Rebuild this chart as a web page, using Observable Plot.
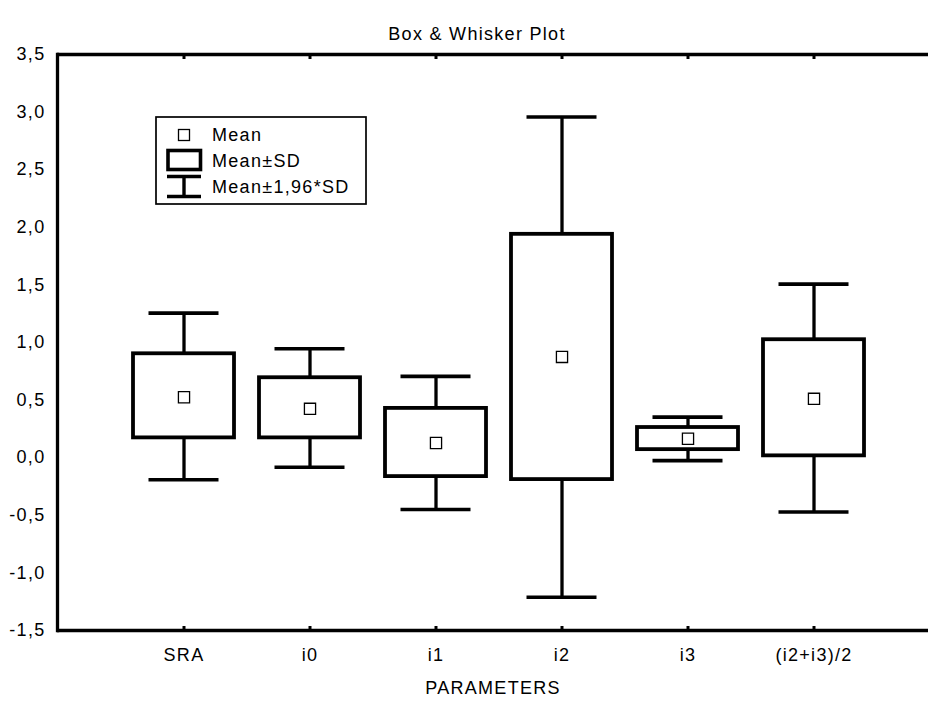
<!DOCTYPE html>
<html><head><meta charset="utf-8">
<script src="https://cdn.jsdelivr.net/npm/d3@7"></script>
<script src="https://cdn.jsdelivr.net/npm/@observablehq/plot@0.6"></script>
<style>body{margin:0;background:#fff}</style>
</head><body><div id="chart"></div>
<script>
const categories = ["SRA", "i0", "i1", "i2", "i3", "(i2+i3)/2"];
const means  = [0.525, 0.424, 0.128, 0.875, 0.164, 0.511];
const sdLow  = [0.172, 0.172, -0.164, -0.190, 0.070, 0.016];
const sdHigh = [0.902, 0.694, 0.428, 1.939, 0.262, 1.024];
const ciLow  = [-0.192, -0.083, -0.450, -1.212, -0.025, -0.472];
const ciHigh = [1.255, 0.946, 0.706, 2.958, 0.352, 1.507];
const yTicks = [-1.5, -1, -0.5, 0, 0.5, 1, 1.5, 2, 2.5, 3, 3.5];
const title = "Box & Whisker Plot";
const xLabel = "PARAMETERS";
const legendLabels = ["Mean", "Mean±SD", "Mean±1,96*SD"];

const data = categories.map((name, i) => ({
  name, mean: means[i], sdLow: sdLow[i], sdHigh: sdHigh[i], ciLow: ciLow[i], ciHigh: ciHigh[i]
}));

const plot = Plot.plot({
  width: 928, height: 702,
  marginLeft: 57, marginRight: 0, marginTop: 54, marginBottom: 72,
  style: {fontFamily: "'Liberation Sans', Arial, sans-serif", fontSize: "18px", letterSpacing: "1.3px", background: "white", color: "black"},
  x: {type: "band", domain: categories, paddingInner: 0.2, paddingOuter: 0.548, align: 0.545, label: null},
  y: {domain: [-1.5, 3.5], label: null},
  marks: [
    Plot.ruleX(data, {x: "name", y1: "ciLow", y2: "ciHigh", strokeWidth: 3.3}),
    Plot.tickY(data, {x: "name", y: "ciLow", strokeWidth: 3.6, inset: 15.5}),
    Plot.tickY(data, {x: "name", y: "ciHigh", strokeWidth: 3.6, inset: 15.5}),
    Plot.barY(data, {x: "name", y1: "sdLow", y2: "sdHigh", fill: "white", stroke: "black", strokeWidth: 3.8}),
    Plot.dot(data, {x: "name", y: "mean", symbol: "square", r: 6.3, fill: "white", stroke: "black", strokeWidth: 1.3}),
    Plot.ruleY([-1.5, 3.5], {strokeWidth: 3.3}),
    Plot.frame({anchor: "left", strokeWidth: 3.3}),
    Plot.axisX({anchor: "bottom", tickSize: 0, tickPadding: 18, label: null}),
    Plot.axisX({anchor: "bottom", tickSize: -4, tickFormat: () => "", strokeWidth: 3, label: null}),
    Plot.axisX({anchor: "top", tickSize: -4, tickFormat: () => "", strokeWidth: 3, label: null}),
    Plot.axisY({ticks: yTicks, tickFormat: d => d.toFixed(1).replace(".", ","), tickSize: 0, tickPadding: 12, label: null}),
    Plot.text([title], {frameAnchor: "top", dy: -27, dx: -16}),
    Plot.text([xLabel], {frameAnchor: "bottom", dy: 63})
  ]
});
document.getElementById("chart").append(plot);

// Legend
const svg = d3.select(plot);
const lg = svg.append("g").attr("class", "legend").attr("text-anchor", "start");
lg.append("rect").attr("x", 156).attr("y", 117).attr("width", 210).attr("height", 87)
  .attr("fill", "white").attr("stroke", "black").attr("stroke-width", 1.7);
lg.append("rect").attr("x", 178.5).attr("y", 129.5).attr("width", 11).attr("height", 11)
  .attr("fill", "white").attr("stroke", "black").attr("stroke-width", 1.3);
lg.append("rect").attr("x", 168).attr("y", 150.5).attr("width", 32.5).attr("height", 19)
  .attr("fill", "white").attr("stroke", "black").attr("stroke-width", 3.6);
[[167, 176.5, 201, 176.5], [167, 196.5, 201, 196.5], [184, 176.5, 184, 196.5]].forEach(([x1, y1, x2, y2]) =>
  lg.append("line").attr("x1", x1).attr("y1", y1).attr("x2", x2).attr("y2", y2)
    .attr("stroke", "black").attr("stroke-width", 3.4));
[135, 160.5, 186.5].forEach((y, i) =>
  lg.append("text").attr("x", 212).attr("y", y).attr("dy", "0.35em")
    .attr("text-anchor", "start").attr("fill", "black").text(legendLabels[i]));
</script>
</body></html>
